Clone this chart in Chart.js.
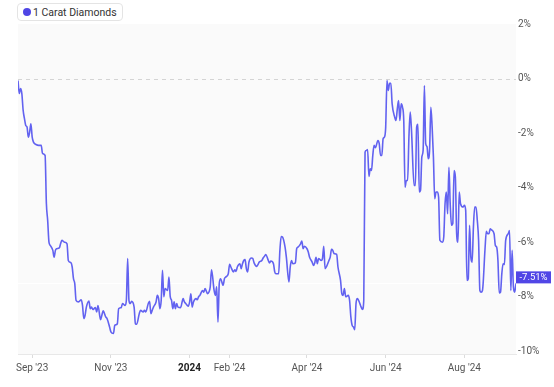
<!DOCTYPE html>
<html>
<head>
<meta charset="utf-8">
<script src="https://cdn.jsdelivr.net/npm/chart.js@4.4.1/dist/chart.umd.min.js"></script>
<style>
  html, body { margin: 0; padding: 0; background: #fff; }
  #wrap { position: relative; width: 554px; height: 387px; }
  #legend {
    position: absolute; left: 17px; top: 3px; height: 18px;
    padding: 0 5px 0 5px; box-sizing: border-box;
    border: 1px solid #e4e4e4; border-radius: 4px; background: #fff;
    display: flex; align-items: center;
    font: 10.5px Roboto, sans-serif; color: #333;
  }
  #legend .dot { width: 8px; height: 8px; border-radius: 50%; background: #4f46e5; margin-right: 2px; }
</style>
</head>
<body>
<div id="wrap">
  <canvas id="chart" width="554" height="387"></canvas>
  <div id="legend"><span class="dot"></span>1 Carat Diamonds</div>
</div>
<script>
// days counted from 2023-08-21
const START = Date.UTC(2023, 7, 21);

const dayIdx = [
  0, 1, 2, 3, 4, 5, 6, 7, 8, 9, 10, 11, 12, 14, 16, 18, 19, 21, 22, 23,
  24, 25, 27, 28, 29, 30, 32, 33, 34, 36, 38, 39, 41, 42, 43, 44, 45, 47, 49, 50,
  51, 52, 53, 55, 56, 57, 58, 60, 61, 62, 64, 65, 66, 68, 69, 71, 72, 74, 75, 77,
  78, 80, 81, 83, 84, 85, 86, 87, 88, 90, 91, 92, 94, 95, 97, 98, 99, 101, 102, 103,
  104, 105, 107, 108, 109, 110, 111, 112, 113, 114, 116, 117, 118, 119, 120, 121, 122, 123, 124, 126,
  128, 129, 130, 132, 133, 134, 135, 136, 138, 139, 140, 141, 143, 144, 145, 147, 148, 149, 150, 152,
  153, 154, 155, 156, 157, 159, 160, 161, 163, 164, 165, 167, 168, 169, 170, 172, 173, 174, 175, 176,
  177, 178, 179, 181, 182, 183, 185, 186, 187, 189, 190, 191, 192, 194, 195, 196, 198, 199, 200, 202,
  203, 204, 205, 207, 208, 210, 211, 212, 213, 215, 216, 217, 219, 220, 221, 222, 224, 225, 226, 228,
  229, 230, 231, 232, 233, 235, 236, 237, 238, 239, 241, 242, 243, 244, 245, 247, 248, 250, 251, 252,
  253, 254, 256, 257, 258, 259, 260, 261, 262, 263, 264, 266, 267, 268, 269, 270, 271, 272, 273, 274,
  275, 276, 277, 279, 280, 281, 282, 283, 284, 285, 286, 287, 288, 289, 290, 292, 293, 294, 295, 296,
  297, 298, 299, 300, 301, 302, 303, 304, 305, 307, 308, 309, 310, 311, 312, 313, 314, 315, 316, 317,
  318, 319, 320, 321, 322, 323, 324, 325, 326, 327, 329, 330, 331, 332, 333, 334, 335, 336, 337, 338,
  339, 340, 341, 342, 343, 345, 346, 347, 348, 349, 350, 351, 352, 353, 354, 355, 356, 357, 358, 359,
  360, 362, 363, 364, 365, 366, 367, 369, 370, 371, 372, 373, 374, 375, 376, 377, 378, 380, 381, 382,
  383, 384, 385, 386
];

const pct = [
  -0.07, -0.55, -0.37, -0.56, -1.17, -1.47, -1.72, -1.78, -2.15, -1.97, -1.66, -2.15, -2.33, -2.42, -2.45, -2.45, -2.75, -2.82, -4.58, -5.2,
  -6.0, -6.12, -6.3, -6.55, -6.3, -6.24, -6.21, -6.06, -5.93, -6.0, -6.06, -6.67, -6.75, -6.91, -7.34, -7.52, -8.13, -8.19, -8.11, -8.32,
  -8.8, -8.68, -8.38, -8.16, -8.44, -8.38, -8.47, -8.4, -8.56, -8.32, -8.84, -8.68, -8.52, -8.74, -8.8, -9.11, -9.29, -9.35, -9.05, -8.99,
  -8.44, -8.4, -8.25, -8.32, -8.13, -6.6, -8.13, -8.25, -8.17, -8.38, -8.99, -9.01, -8.62, -8.5, -8.56, -8.5, -8.56, -8.25, -8.17, -8.62,
  -8.5, -8.38, -8.19, -7.95, -8.07, -8.44, -8.13, -7.03, -8.0, -7.7, -7.77, -7.28, -8.0, -8.13, -8.44, -8.19, -8.44, -8.25, -8.38, -8.4,
  -8.07, -8.19, -8.25, -8.35, -8.2, -7.89, -8.38, -8.19, -8.07, -8.11, -8.0, -7.95, -7.77, -7.83, -7.7, -7.89, -7.83, -7.64, -7.01, -7.77,
  -7.95, -7.64, -8.93, -7.52, -7.34, -7.58, -7.34, -7.28, -7.16, -6.81, -6.91, -7.09, -7.01, -7.07, -6.91, -6.79, -6.97, -6.79, -6.67, -6.64,
  -6.97, -7.09, -6.73, -6.58, -6.6, -6.76, -6.89, -6.82, -6.73, -6.67, -6.58, -6.52, -6.45, -6.67, -6.76, -6.69, -6.79, -7.09, -7.16, -7.16,
  -6.3, -5.79, -5.81, -6.18, -6.55, -7.46, -6.91, -6.67, -6.79, -6.76, -6.24, -6.18, -6.06, -5.96, -6.24, -6.15, -6.24, -6.36, -6.55, -6.73,
  -6.85, -6.76, -6.55, -6.79, -6.6, -6.67, -6.6, -6.15, -6.97, -6.91, -6.67, -6.55, -6.26, -6.3, -6.42, -6.45, -6.91, -7.4, -7.89, -7.95,
  -7.7, -8.0, -7.95, -8.13, -8.74, -9.05, -9.11, -9.21, -8.25, -8.07, -8.13, -8.38, -8.47, -8.13, -2.7, -2.64, -2.6, -3.59, -3.31, -3.37,
  -2.82, -2.45, -2.54, -2.27, -2.39, -2.82, -2.82, -2.21, -2.15, -1.78, -0.07, -0.44, -0.17, -0.17, -0.93, -1.42, -1.54, -1.11, -0.81, -1.54,
  -0.93, -1.05, -1.54, -3.98, -3.74, -3.74, -2.15, -1.23, -1.9, -3.92, -3.92, -1.78, -1.68, -4.16, -4.1, -2.88, -2.64, -0.26, -2.39, -2.49,
  -2.94, -2.64, -1.05, -1.78, -2.88, -4.41, -4.16, -4.16, -4.35, -5.93, -6.0, -5.81, -4.59, -4.16, -4.96, -3.25, -4.59, -5.38, -5.32, -3.37,
  -3.61, -5.69, -6.0, -4.16, -4.59, -4.71, -4.65, -4.83, -7.4, -7.34, -5.38, -6.55, -6.73, -5.44, -4.71, -4.71, -5.2, -5.93, -7.77, -7.83,
  -7.77, -6.24, -5.6, -5.69, -5.69, -5.51, -5.55, -5.69, -6.12, -6.18, -6.67, -7.86, -7.83, -7.16, -6.79, -6.82, -5.93, -5.69, -5.57, -7.77,
  -6.3, -7.64, -7.83, -7.51
];

const tickDates = ['2023-09-01', '2023-11-01', '2024-01-01', '2024-02-01', '2024-04-01', '2024-06-01', '2024-08-01'];
const tickLabels = ["Sep '23", "Nov '23", '2024', "Feb '24", "Apr '24", "Jun '24", "Aug '24"];
const yTicks = [2, 0, -2, -4, -6, -8, -10];
const lastValue = -7.51;

const tickDays = tickDates.map(d => (Date.parse(d + 'T00:00:00Z') - START) / 86400000);

// plot background, 0% dashed line, last value line + tag
const decor = {
  id: 'decor',
  beforeDraw(chart) {
    const { ctx, chartArea: a, scales } = chart;
    ctx.save();
    ctx.fillStyle = '#fafafa';
    ctx.fillRect(a.left, a.top, a.right - a.left, a.bottom - a.top);
    const y0 = Math.round(scales.y.getPixelForValue(0)) + 0.5;
    ctx.strokeStyle = '#d4d4d4';
    ctx.lineWidth = 1;
    ctx.setLineDash([4, 4]);
    ctx.beginPath();
    ctx.moveTo(a.left, y0);
    ctx.lineTo(a.right, y0);
    ctx.stroke();
    ctx.setLineDash([]);
    const yl = Math.round(scales.y.getPixelForValue(lastValue)) + 0.5;
    ctx.strokeStyle = '#ffffff';
    ctx.beginPath();
    ctx.moveTo(a.left, yl);
    ctx.lineTo(a.right, yl);
    ctx.stroke();
    ctx.restore();
  },
  afterDraw(chart) {
    const { ctx, chartArea: a, scales } = chart;
    const yl = scales.y.getPixelForValue(lastValue);
    ctx.save();
    ctx.font = '9.5px Roboto, sans-serif';
    const txt = lastValue.toFixed(2) + '%';
    const w = Math.ceil(ctx.measureText(txt).width) + 6;
    ctx.fillStyle = '#5146e6';
    ctx.fillRect(a.right, yl - 12, w, 12);
    ctx.fillStyle = '#fff';
    ctx.textAlign = 'center';
    ctx.textBaseline = 'middle';
    ctx.fillText(txt, a.right + w / 2, yl - 5.5);
    ctx.restore();
  }
};

new Chart(document.getElementById('chart'), {
  type: 'line',
  data: {
    datasets: [{
      label: '1 Carat Diamonds',
      data: dayIdx.map((d, i) => ({ x: d, y: pct[i] })),
      borderColor: '#6262f0',
      borderWidth: 1.6,
      pointRadius: 0,
      cubicInterpolationMode: 'monotone',
      fill: false
    }]
  },
  options: {
    responsive: false,
    animation: false,
    devicePixelRatio: 1,
    layout: { padding: { left: 18, right: 0, top: 24, bottom: 13 } },
    plugins: {
      legend: { display: false },
      tooltip: { enabled: false }
    },
    scales: {
      x: {
        type: 'linear',
        min: 0,
        max: 386,
        afterBuildTicks: s => { s.ticks = tickDays.map(v => ({ value: v })); },
        afterFit: s => { s.height = 20; },
        ticks: {
          autoSkip: false,
          maxRotation: 0,
          padding: 4,
          callback: (v, i) => tickLabels[i],
          color: c => c.index === 2 ? '#222' : '#555',
          font: c => ({ family: 'Roboto', size: 10, weight: c.index === 2 ? 'bold' : 'normal' })
        },
        grid: { drawOnChartArea: false, tickLength: 4, tickColor: '#dcdcdc' },
        border: { display: true, color: '#e8e8e8' }
      },
      y: {
        position: 'right',
        min: -10.1,
        max: 2,
        afterBuildTicks: s => { s.ticks = yTicks.map(v => ({ value: v })); },
        afterFit: s => { s.width = 38; },
        ticks: {
          padding: 2,
          color: '#555',
          font: { family: 'Roboto', size: 10 },
          callback: v => v + '%'
        },
        grid: { display: false, drawTicks: false },
        border: { display: false }
      }
    }
  },
  plugins: [decor]
});
</script>
</body>
</html>
